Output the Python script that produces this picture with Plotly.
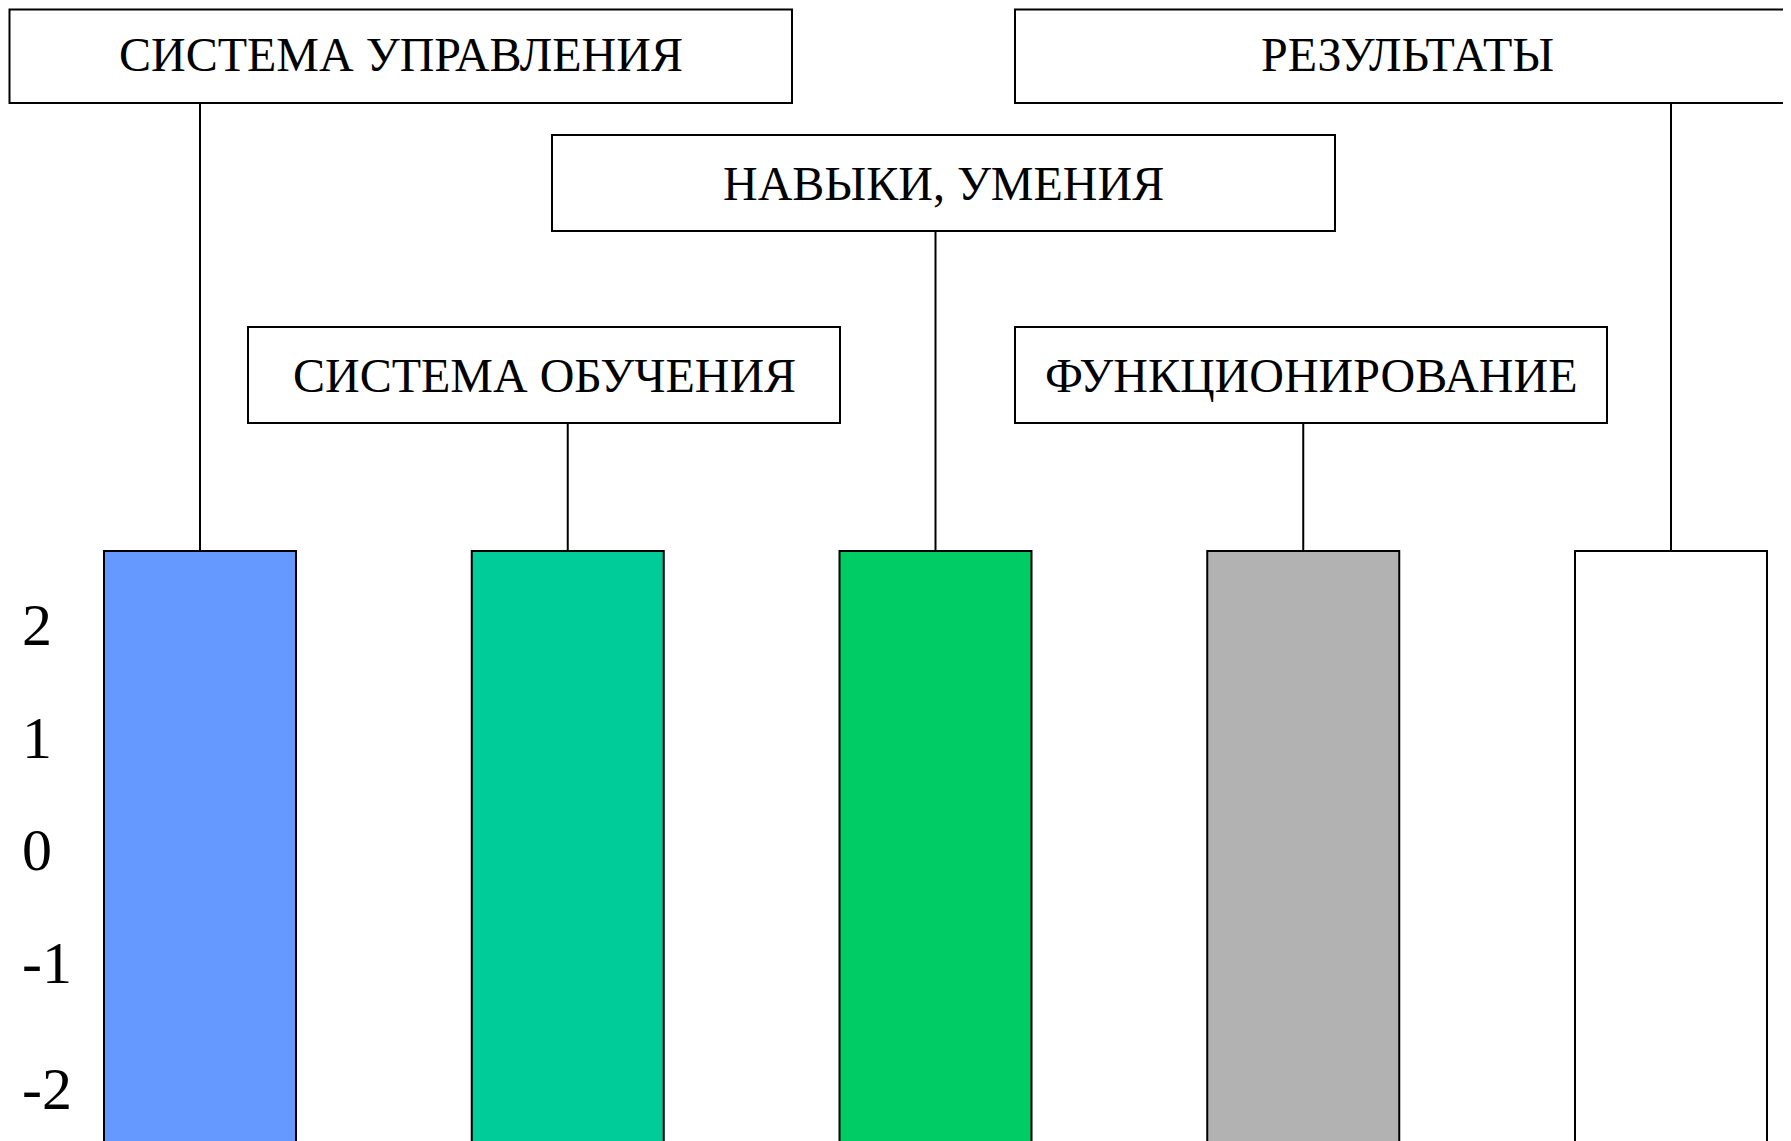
import plotly.graph_objects as go

# ---- data ----
categories = [0, 1, 2, 3, 4]
bar_top = [2.65, 2.65, 2.65, 2.65, 2.65]
bar_base = [-3, -3, -3, -3, -3]
bar_colors = ["#6699FF", "#00CC99", "#00CC66", "#B2B2B2", "#FFFFFF"]

box_labels = ["СИСТЕМА УПРАВЛЕНИЯ", "РЕЗУЛЬТАТЫ", "НАВЫКИ, УМЕНИЯ",
              "СИСТЕМА ОБУЧЕНИЯ", "ФУНКЦИОНИРОВАНИЕ"]
# which box each bar connects to
bar_to_box = [0, 3, 2, 4, 1]

tick_vals = [2, 1, 0, -1, -2.12]
tick_text = ["2", "1", "0", "-1", "-2"]

# ---- layout geometry (window pixels) ----
OFF = 8  # default page body margin
WIN_W, WIN_H = 1791, 1141
W, H = WIN_W - OFF, WIN_H - OFF
# boxes: (x0, y0, x1, y1) in window pixels
box_px = [
    (9.5, 9.5, 792, 103),
    (1015, 9.5, 1800, 103),
    (552, 135, 1335, 231),
    (248, 327, 840, 423),
    (1015, 327, 1607, 423),
]
text_center_y = [55, 55, 183, 375, 375]
zero_px = 849.0 - OFF
unit_px = 112.5
cat0_px = 200.0 - OFF
cat_step = 367.75

y_min = -(H - zero_px) / unit_px
y_max = zero_px / unit_px
x_min = -cat0_px / cat_step
x_max = (W - cat0_px) / cat_step


def py_to_data(py):
    return (zero_px - (py - OFF)) / unit_px


FONT = "Liberation Serif, Times New Roman, serif"

fig = go.Figure()
fig.add_trace(go.Bar(
    x=categories,
    y=[t - b for t, b in zip(bar_top, bar_base)],
    base=bar_base,
    width=192 / cat_step,
    marker=dict(color=bar_colors, line=dict(color="black", width=2)),
    hoverinfo="skip",
    showlegend=False,
))

shapes = []
annotations = []
for (x0, y0, x1, y1), ty, label in zip(box_px, text_center_y, box_labels):
    cx = (x0 + x1) / 2 - OFF
    x0, x1, y0, y1 = x0 - OFF, x1 - OFF, y0 - OFF, y1 - OFF
    shapes.append(dict(type="rect", xref="paper", yref="paper",
                       x0=x0 / W, x1=x1 / W, y0=1 - y0 / H, y1=1 - y1 / H,
                       line=dict(color="black", width=2), fillcolor="white",
                       layer="above"))
    annotations.append(dict(xref="paper", yref="paper",
                            x=cx / W, y=1 - (ty - OFF) / H,
                            text=label, showarrow=False,
                            xanchor="center", yanchor="middle",
                            font=dict(family=FONT, size=48, color="black")))

for cat, top, bi in zip(categories, bar_top, bar_to_box):
    bottom = py_to_data(box_px[bi][3])
    shapes.append(dict(type="line", xref="x", yref="y",
                       x0=cat, x1=cat, y0=top, y1=bottom,
                       line=dict(color="black", width=2)))

fig.update_layout(
    width=W, height=H,
    margin=dict(l=0, r=0, t=0, b=0),
    paper_bgcolor="white", plot_bgcolor="white",
    shapes=shapes, annotations=annotations,
    xaxis=dict(range=[x_min, x_max], visible=False, fixedrange=True),
    yaxis=dict(range=[y_min, y_max], tickvals=tick_vals, ticktext=tick_text,
               showgrid=False, zeroline=False, showline=False, ticks="",
               ticklabelposition="inside", ticklabelstandoff=11,
               tickfont=dict(family=FONT, size=60, color="black"),
               fixedrange=True),
)

fig.write_html("out.html")
